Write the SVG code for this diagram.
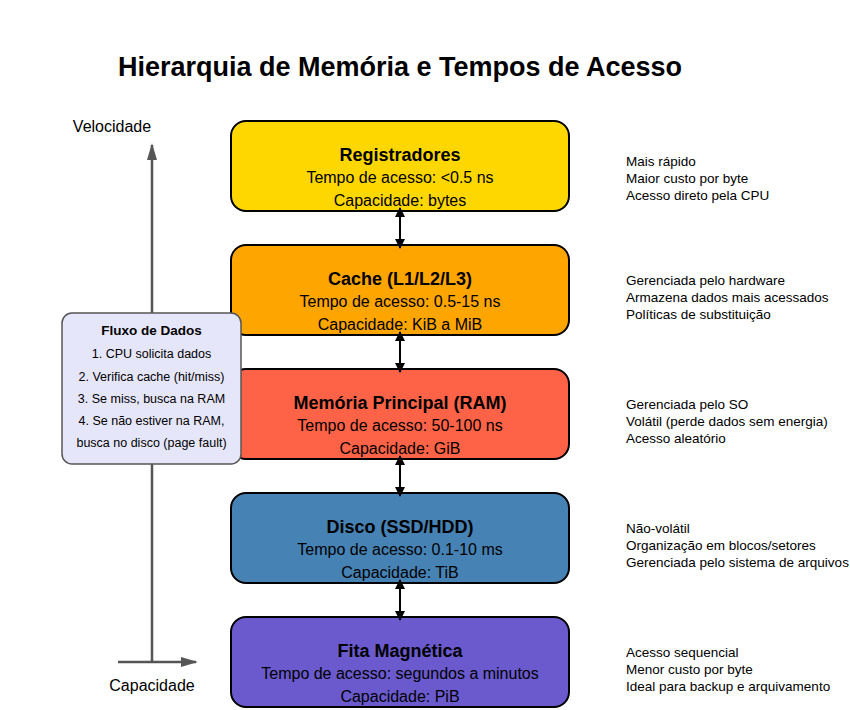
<svg xmlns="http://www.w3.org/2000/svg" width="850" height="710" viewBox="0 0 850 710">
<defs>
<marker id="ah" viewBox="0 0 10 10" refX="9" refY="5" markerWidth="10" markerHeight="10" orient="auto-start-reverse" markerUnits="userSpaceOnUse"><path d="M0,0 L10,5 L0,10 z" fill="#000"/></marker>
<marker id="axh" viewBox="0 0 10 10" refX="9" refY="5" markerWidth="17" markerHeight="17" orient="auto" markerUnits="userSpaceOnUse"><path d="M0,2 L10,5 L0,8 z" fill="#555"/></marker>
<style>
text{font-family:"Liberation Sans",Arial,sans-serif;fill:#000}
.box{stroke:#000;stroke-width:2}
.nt{font-size:18px;font-weight:bold;text-anchor:middle}
.nl{font-size:16px;text-anchor:middle}
.side{font-size:13.5px}
.axis{stroke:#555;stroke-width:2.5;fill:none}
.conn{stroke:#000;stroke-width:2;fill:none}
.ft{font-size:13.5px;font-weight:bold;text-anchor:middle}
.fl{font-size:12.5px;text-anchor:middle}
</style>
</defs>
<rect width="850" height="710" fill="#fff"/>
<text x="400" y="76" font-size="27" font-weight="bold" text-anchor="middle">Hierarquia de Memória e Tempos de Acesso</text>

<g id="axes">
<line class="axis" x1="152" y1="662" x2="152" y2="145" marker-end="url(#axh)"/>
<line class="axis" x1="118" y1="662" x2="196" y2="662" marker-end="url(#axh)"/>
<text x="112" y="132" font-size="16" text-anchor="middle">Velocidade</text>
<text x="152" y="691" font-size="16" text-anchor="middle">Capacidade</text>
</g>

<g id="registradores">
<rect class="box" x="231" y="121" width="338" height="90" rx="15" fill="#FFD700"/>
<text class="nt" x="400" y="161">Registradores</text>
<text class="nl" x="400" y="183">Tempo de acesso: &lt;0.5 ns</text>
<text class="nl" x="400" y="206">Capacidade: bytes</text>
</g>
<g id="cache">
<rect class="box" x="231" y="245" width="338" height="90" rx="15" fill="#FFA500"/>
<text class="nt" x="400" y="285">Cache (L1/L2/L3)</text>
<text class="nl" x="400" y="307">Tempo de acesso: 0.5-15 ns</text>
<text class="nl" x="400" y="330">Capacidade: KiB a MiB</text>
</g>
<g id="ram">
<rect class="box" x="231" y="369" width="338" height="90" rx="15" fill="#FF6347"/>
<text class="nt" x="400" y="409">Memória Principal (RAM)</text>
<text class="nl" x="400" y="431">Tempo de acesso: 50-100 ns</text>
<text class="nl" x="400" y="454">Capacidade: GiB</text>
</g>
<g id="disco">
<rect class="box" x="231" y="493" width="338" height="90" rx="15" fill="#4682B4"/>
<text class="nt" x="400" y="533">Disco (SSD/HDD)</text>
<text class="nl" x="400" y="555">Tempo de acesso: 0.1-10 ms</text>
<text class="nl" x="400" y="578">Capacidade: TiB</text>
</g>
<g id="fita">
<rect class="box" x="231" y="617" width="338" height="90" rx="15" fill="#6A5ACD"/>
<text class="nt" x="400" y="657">Fita Magnética</text>
<text class="nl" x="400" y="679">Tempo de acesso: segundos a minutos</text>
<text class="nl" x="400" y="702">Capacidade: PiB</text>
</g>

<g id="connectors">
<line class="conn" x1="400" y1="208" x2="400" y2="248" marker-start="url(#ah)" marker-end="url(#ah)"/>
<line class="conn" x1="400" y1="332" x2="400" y2="372" marker-start="url(#ah)" marker-end="url(#ah)"/>
<line class="conn" x1="400" y1="456" x2="400" y2="496" marker-start="url(#ah)" marker-end="url(#ah)"/>
<line class="conn" x1="400" y1="580" x2="400" y2="620" marker-start="url(#ah)" marker-end="url(#ah)"/>
</g>

<g id="notes">
<text class="side" x="626" y="166">Mais rápido</text>
<text class="side" x="626" y="183">Maior custo por byte</text>
<text class="side" x="626" y="200">Acesso direto pela CPU</text>
<text class="side" x="626" y="285">Gerenciada pelo hardware</text>
<text class="side" x="626" y="302">Armazena dados mais acessados</text>
<text class="side" x="626" y="319">Políticas de substituição</text>
<text class="side" x="626" y="409">Gerenciada pelo SO</text>
<text class="side" x="626" y="426">Volátil (perde dados sem energia)</text>
<text class="side" x="626" y="443">Acesso aleatório</text>
<text class="side" x="626" y="533">Não-volátil</text>
<text class="side" x="626" y="550">Organização em blocos/setores</text>
<text class="side" x="626" y="567">Gerenciada pelo sistema de arquivos</text>
<text class="side" x="626" y="657">Acesso sequencial</text>
<text class="side" x="626" y="674">Menor custo por byte</text>
<text class="side" x="626" y="691">Ideal para backup e arquivamento</text>
</g>

<g id="fluxo">
<rect x="62" y="313" width="179" height="151" rx="10" fill="#E6E6FA" stroke="#555" stroke-width="1.5"/>
<text class="ft" x="151.5" y="335">Fluxo de Dados</text>
<text class="fl" x="151.5" y="358">1. CPU solicita dados</text>
<text class="fl" x="151.5" y="381">2. Verifica cache (hit/miss)</text>
<text class="fl" x="151.5" y="403">3. Se miss, busca na RAM</text>
<text class="fl" x="151.5" y="425">4. Se não estiver na RAM,</text>
<text class="fl" x="151.5" y="447">busca no disco (page fault)</text>
</g>
</svg>
